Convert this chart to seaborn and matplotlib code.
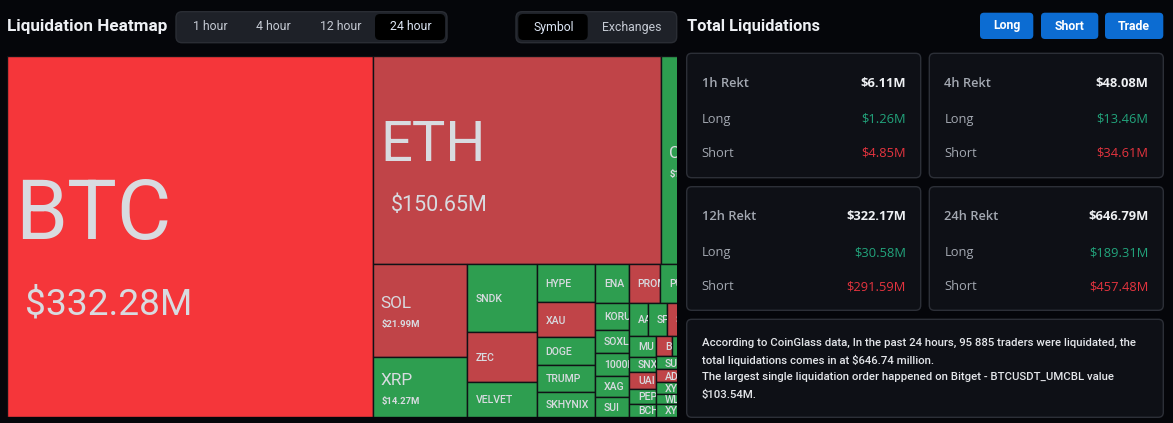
import matplotlib
matplotlib.use("Agg")
import matplotlib.pyplot as plt
from matplotlib.patches import Rectangle, FancyBboxPatch
from matplotlib.transforms import Bbox
import seaborn as sns

# ---- treemap data: 24 hour liquidations per symbol ($M) ----
symbols = ["BTC", "ETH", "CRV", "SOL", "XRP", "SNDK", "ZEC", "VELVET",
           "HYPE", "XAU", "DOGE", "TRUMP", "SKHYNIX", "ENA", "PROMPT", "PUMP",
           "KORU", "SOXL", "1000BONK", "XAG", "SUI", "AAVE", "SPX", "SEI",
           "MU", "SNX", "UAI", "PEPE", "BCH", "BIO", "LTC",
           "SUSHI", "ADA", "XYO", "WLFI", "XYZ"]
amounts = [332.28, 150.65, 16.0, 21.99, 14.27, 12.08, 8.74, 6.25,
           5.72, 5.12, 4.11, 3.96, 3.67, 3.36, 3.10, 3.17,
           2.26, 2.05, 1.94, 1.78, 1.73, 1.58, 1.56, 2.06,
           1.37, 1.06, 1.11, 0.99, 0.90, 0.84, 0.97,
           1.18, 1.15, 1.04, 0.95, 1.14]
sides = ["short+", "short", "long", "short", "long", "long", "short", "long",
         "long", "short", "long", "long", "long", "long", "short", "long",
         "long", "long", "long", "long", "long", "long", "long", "short",
         "long", "long", "short", "long", "long", "short", "long",
         "long", "short", "long", "long", "long"]

# order in which the treemap strips were cut (h = side by side, v = stacked)
L4 = ("v", [("h", ["BIO", "LTC"]), ("v", ["SUSHI", "ADA", "XYO", "WLFI", "XYZ"])])
L3 = ("h", [("v", ["MU", "SNX", "UAI", "PEPE", "BCH"]), L4])
LOWER2 = ("v", [("h", ["AAVE", "SPX", "SEI"]), L3])
LOWER = ("h", [("v", ["KORU", "SOXL", "1000BONK", "XAG", "SUI"]), LOWER2])
SMALL = ("v", [("h", ["ENA", "PROMPT", "PUMP"]), LOWER])
BOTTOM = ("h", [("v", ["SOL", "XRP"]), ("v", ["SNDK", "ZEC", "VELVET"]),
                ("v", ["HYPE", "XAU", "DOGE", "TRUMP", "SKHYNIX"]), SMALL])
TREE = ("h", ["BTC", ("v", [("h", ["ETH", "CRV"]), BOTTOM])])

# ---- summary cards ----
card_titles = ["1h Rekt", "4h Rekt", "12h Rekt", "24h Rekt"]
card_total = ["$6.11M", "$48.08M", "$322.17M", "$646.79M"]
card_long = ["$1.26M", "$13.46M", "$30.58M", "$189.31M"]
card_short = ["$4.85M", "$34.61M", "$291.59M", "$457.48M"]
time_tabs = ["1 hour", "4 hour", "12 hour", "24 hour"]
view_tabs = ["Symbol", "Exchanges"]
buttons = ["Long", "Short", "Trade"]
info_lines = ["According to CoinGlass data, In the past 24 hours, 95 885 traders were liquidated, the",
              "total liquidations comes in at $646.74 million.",
              "The largest single liquidation order happened on Bitget - BTCUSDT_UMCBL value",
              "$103.54M."]

BG = "#05060a"
palette = {"short+": "#f5363a", "short": "#c04448", "long": "#2e9e50"}
sns.set_theme(style="dark", rc={"figure.facecolor": BG, "axes.facecolor": BG})
plt.rcParams["font.family"] = ["Roboto", "DejaVu Sans"]
PT = 0.72  # px -> pt at 100 dpi
OS = ["Open Sans", "DejaVu Sans"]

value_of = dict(zip(symbols, amounts))
side_of = dict(zip(symbols, sides))


def total(node):
    if isinstance(node, str):
        return value_of[node]
    return sum(total(c) for c in node[1])


def slice_layout(node, x, y, w, h, out):
    if isinstance(node, str):
        out[node] = (x, y, w, h)
        return
    direction, children = node
    s = total(node)
    pos = 0.0
    for c in children:
        f = total(c) / s
        if direction == "h":
            slice_layout(c, x + pos * w, y, f * w, h, out)
        else:
            slice_layout(c, x, y + pos * h, w, f * h, out)
        pos += f


fig = plt.figure(figsize=(11.73, 4.23), dpi=100)
bg = fig.add_axes([0, 0, 1, 1])
bg.set_xlim(0, 1173)
bg.set_ylim(423, 0)
bg.axis("off")


def rbox(x0, y0, x1, y1, fc, ec="none", r=5, lw=1.0):
    bg.add_patch(FancyBboxPatch((x0, y0), x1 - x0, y1 - y0,
                                boxstyle=f"round,pad=0,rounding_size={r}",
                                fc=fc, ec=ec, lw=lw))


# header left
bg.text(7, 27, "Liquidation Heatmap", fontsize=12.3, fontweight="bold",
        color="#eef0f4", va="center", ha="left")
rbox(176, 11.7, 447, 42.7, "#1e2128", "#2a2d34", r=6)
rbox(375, 14, 445, 40, "#000000", r=5)
for lab, cx in zip(time_tabs, [210, 273.3, 340.7, 410.7]):
    bg.text(cx, 27, lab, fontsize=8.8, color="#dde6f5" if lab == "24 hour" else "#c5cad3",
            ha="center", va="center")
rbox(516, 11.7, 676.7, 42.7, "#1e2128", "#2a2d34", r=6)
rbox(518.3, 14, 587.7, 40, "#000000", r=5)
for lab, cx in zip(view_tabs, [553.3, 631.7]):
    bg.text(cx, 27, lab, fontsize=8.8, color="#dde6f5" if lab == "Symbol" else "#c5cad3",
            ha="center", va="center")

# header right
bg.text(687, 27, "Total Liquidations", fontsize=11.8, fontweight="bold",
        color="#eef0f4", va="center", ha="left")
for lab, (x0, x1) in zip(buttons, [(980, 1033.3), (1041, 1098.3), (1105, 1163.3)]):
    rbox(x0, 12.7, x1, 39, "#0c6cd2", r=4)
    bg.text((x0 + x1) / 2, 26, lab, fontsize=8.8, fontweight="bold", color="white",
            ha="center", va="center")

# cards
card_boxes = [(686.7, 53.3, 920.7, 177.7), (929.3, 53.3, 1163.3, 177.7),
              (686.7, 186.7, 920.7, 310.3), (929.3, 186.7, 1163.3, 310.3)]
for i, (x0, y0, x1, y1) in enumerate(card_boxes):
    rbox(x0, y0, x1, y1, "#0e1016", "#2c2f37", r=5)
    lx, rx = x0 + 15, x1 - 14.7
    bg.text(lx, y0 + 30, card_titles[i], fontsize=9.3, fontweight="semibold",
            color="#a3a8b1", ha="left", va="center", family=OS)
    bg.text(rx, y0 + 30, card_total[i], fontsize=9.3, fontweight="bold",
            color="#eef0f3", ha="right", va="center", family=OS)
    bg.text(lx, y0 + 66, "Long", fontsize=9.3, color="#a3a8b1", ha="left", va="center", family=OS)
    bg.text(rx, y0 + 66, card_long[i], fontsize=9.3, color="#22a47c", ha="right", va="center", family=OS)
    bg.text(lx, y0 + 100, "Short", fontsize=9.3, color="#a3a8b1", ha="left", va="center", family=OS)
    bg.text(rx, y0 + 100, card_short[i], fontsize=9.3, color="#e5343f", ha="right", va="center", family=OS)

rbox(686.7, 319.3, 1163.3, 417.3, "#0e1016", "#2c2f37", r=5)
for k, line in enumerate(info_lines):
    bg.text(701.7, 342.7 + 17.4 * k, line, fontsize=8.2, fontweight="medium",
            color="#e4e6ea", ha="left", va="center")

# treemap
tm = fig.add_axes([7 / 1173, 1 - 417 / 423, 670 / 1173, 361 / 423])
tm.set_xlim(7, 677)
tm.set_ylim(417, 56)
tm.axis("off")
VIEW_FRAC = 0.9787  # part of the map visible in the panel
cells = {}
slice_layout(TREE, 7, 56, 670 / VIEW_FRAC, 361, cells)
txt = "#d8dbe0"
for name in symbols:
    x, y, w, h = cells[name]
    rect = Rectangle((x, y), w, h, fc=palette[side_of[name]], ec="#101216", lw=1.0)
    tm.add_patch(rect)
    cy = y + h / 2
    v = value_of[name]
    items = []
    if v >= 100:
        fn = 0.23 * (w * h) ** 0.5
        fv = 0.57 * fn - 10.5
        items.append((x + 8, cy - 0.33 * fn, name, fn, "normal"))
        items.append((x + 18, cy + 0.77 * fn, f"${v:.2f}M", fv, "normal"))
    elif v >= 13:
        items.append((x + 8, cy - 8, name, 17.3, "normal"))
        items.append((x + 9, cy + 13.5, f"${v:.2f}M", 9.5, "bold"))
    else:
        items.append((x + 9, cy, name, 10.5, "medium"))
    corners = tm.transData.transform([(x, y + h), (x + w, y)])
    clip = Bbox.intersection(Bbox(corners), tm.bbox)
    for tx, tcy, s, fpx, wt in items:
        t = tm.text(tx, tcy + 0.355 * fpx, s, fontsize=fpx * PT, color=txt,
                    fontweight=wt, ha="left", va="baseline", clip_on=True)
        t.set_clip_path(None)
        t.set_clip_box(clip)

fig.savefig("out.png", dpi=100, facecolor=BG)
